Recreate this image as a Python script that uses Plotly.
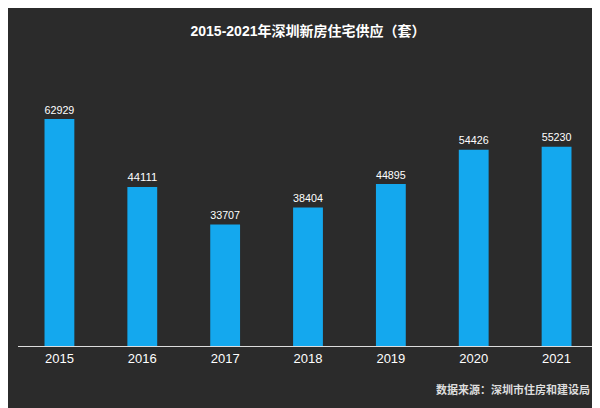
import plotly.graph_objects as go

# data
years = ["2015", "2016", "2017", "2018", "2019", "2020", "2021"]
supply = [62929, 44111, 33707, 38404, 44895, 54426, 55230]

fig = go.Figure()

fig.add_trace(
    go.Bar(x=years,
           y=supply,
           text=[str(v) for v in supply],
           textposition="outside",
           textfont=dict(color="white", size=13),
           marker=dict(color="#14a8ee", line=dict(width=0)),
           width=0.36,
           cliponaxis=False)
)

fig.update_layout(
    width=600, height=408,
    paper_bgcolor="#2b2b2b",
    plot_bgcolor="#2b2b2b",
    margin=dict(l=10, r=10, t=70, b=70),
    font=dict(family="Liberation Sans, Noto Sans CJK SC", color="white"),
    title=dict(text="<b>2015-2021年深圳新房住宅供应（套）</b>",
               x=0.5, y=0.955, xanchor="center",
               font=dict(size=14, color="white")),
    showlegend=False,
    xaxis=dict(showline=True, linecolor="#dddddd", linewidth=1,
               ticks="", tickfont=dict(size=13, color="white")),
    yaxis=dict(visible=False, range=[0, 74300]),
)

#source note in the bottom right corner
fig.add_annotation(text="<b>数据来源：深圳市住房和建设局</b>",
                   xref="paper", yref="paper", x=0.99, y=-0.13,
                   xanchor="right", yanchor="top", showarrow=False,
                   font=dict(size=11, color="#dddddd"))

fig.write_html("out.html")
